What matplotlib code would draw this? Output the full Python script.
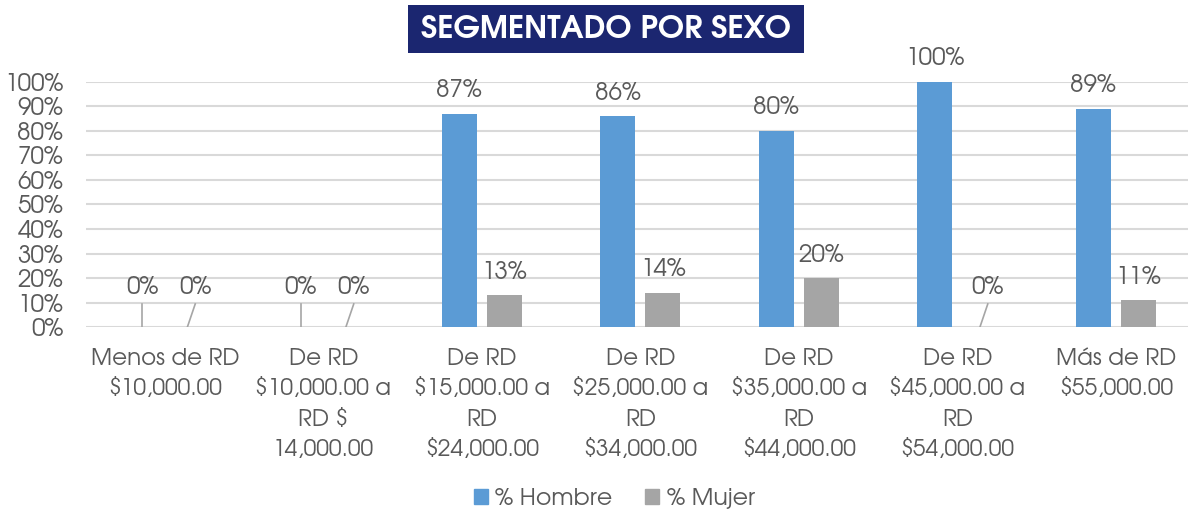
import matplotlib.pyplot as plt
import numpy as np
from matplotlib.patches import Patch, Rectangle

# data
categories = ['Menos de RD\n\\$10,000.00',
              'De RD\n\\$10,000.00 a\nRD \\$\n14,000.00',
              'De RD\n\\$15,000.00 a\nRD\n\\$24,000.00',
              'De RD\n\\$25,000.00 a\nRD\n\\$34,000.00',
              'De RD\n\\$35,000.00 a\nRD\n\\$44,000.00',
              'De RD\n\\$45,000.00 a\nRD\n\\$54,000.00',
              'Más de RD\n\\$55,000.00']
hombre = [0, 0, 87, 86, 80, 100, 89]
mujer = [0, 0, 13, 14, 20, 0, 11]
series_names = ['% Hombre', '% Mujer']
yticks = list(range(0, 101, 10))

c_blue = '#5B9BD5'
c_gray = '#A5A5A5'
txt = '#595959'
plt.rcParams['font.family'] = ['TeX Gyre Adventor', 'DejaVu Sans']

W, H = 1188, 515
fig = plt.figure(figsize=(W / 100, H / 100), dpi=100)
ax = fig.add_axes([0.072, 0.3645, 0.934, 0.477])

x = np.arange(len(categories))
off, w = 0.142, 0.222
ax.bar(x - off, hombre, w, color=c_blue, zorder=3)
ax.bar(x + off, mujer, w, color=c_gray, zorder=3)

for xs, vals, dx in [(x - off, hombre, 0), (x + off, mujer, 0.05)]:
    for xi, v in zip(xs, vals):
        if v == 0:
            # leader line like excel
            ax.plot([xi, xi + dx], [0, 9.5], color='#A6A6A6', lw=1.2, zorder=4)
            ax.text(xi + dx, 16, '0%', ha='center', va='center', fontsize=17.5, color=txt)
        else:
            ax.annotate(f'{v}%', (xi, v), xytext=(0, 16.5), textcoords='offset points',
                        ha='center', va='center', fontsize=17.5, color=txt)

ax.set_xlim(-0.5, len(categories) - 0.5)
ax.set_ylim(0, 100)
ax.set_yticks(yticks)
ax.set_yticklabels([f'{t}%' for t in yticks], fontsize=17.5)
ax.set_xticks(x)
ax.set_xticklabels(categories, linespacing=1.55, fontsize=16.5)
ax.tick_params(axis='both', length=0, labelcolor=txt)
ax.tick_params(axis='x', pad=15)
ax.tick_params(axis='y', pad=16)
ax.grid(axis='y', color='#D9D9D9', lw=1.5, zorder=0)
for s in ax.spines.values():
    s.set_visible(False)

# title box
fig.patches.append(Rectangle((408 / W, 1 - 53 / H), 396 / W, 48 / H, transform=fig.transFigure,
                             fc='#1B2670', ec='none'))
fig.text(606 / W, 1 - 29.5 / H, 'SEGMENTADO POR SEXO', ha='center', va='center', fontsize=22.5,
         fontweight='bold', color='white')

handles = [Patch(color=c_blue), Patch(color=c_gray)]
fig.legend(handles, series_names, loc='center', bbox_to_anchor=(0.517, 0.033), ncol=2,
           frameon=False, fontsize=17, labelcolor=txt, handlelength=0.6, handleheight=0.6,
           handletextpad=0.3, columnspacing=1.4)

fig.savefig('out.png', dpi=100)
